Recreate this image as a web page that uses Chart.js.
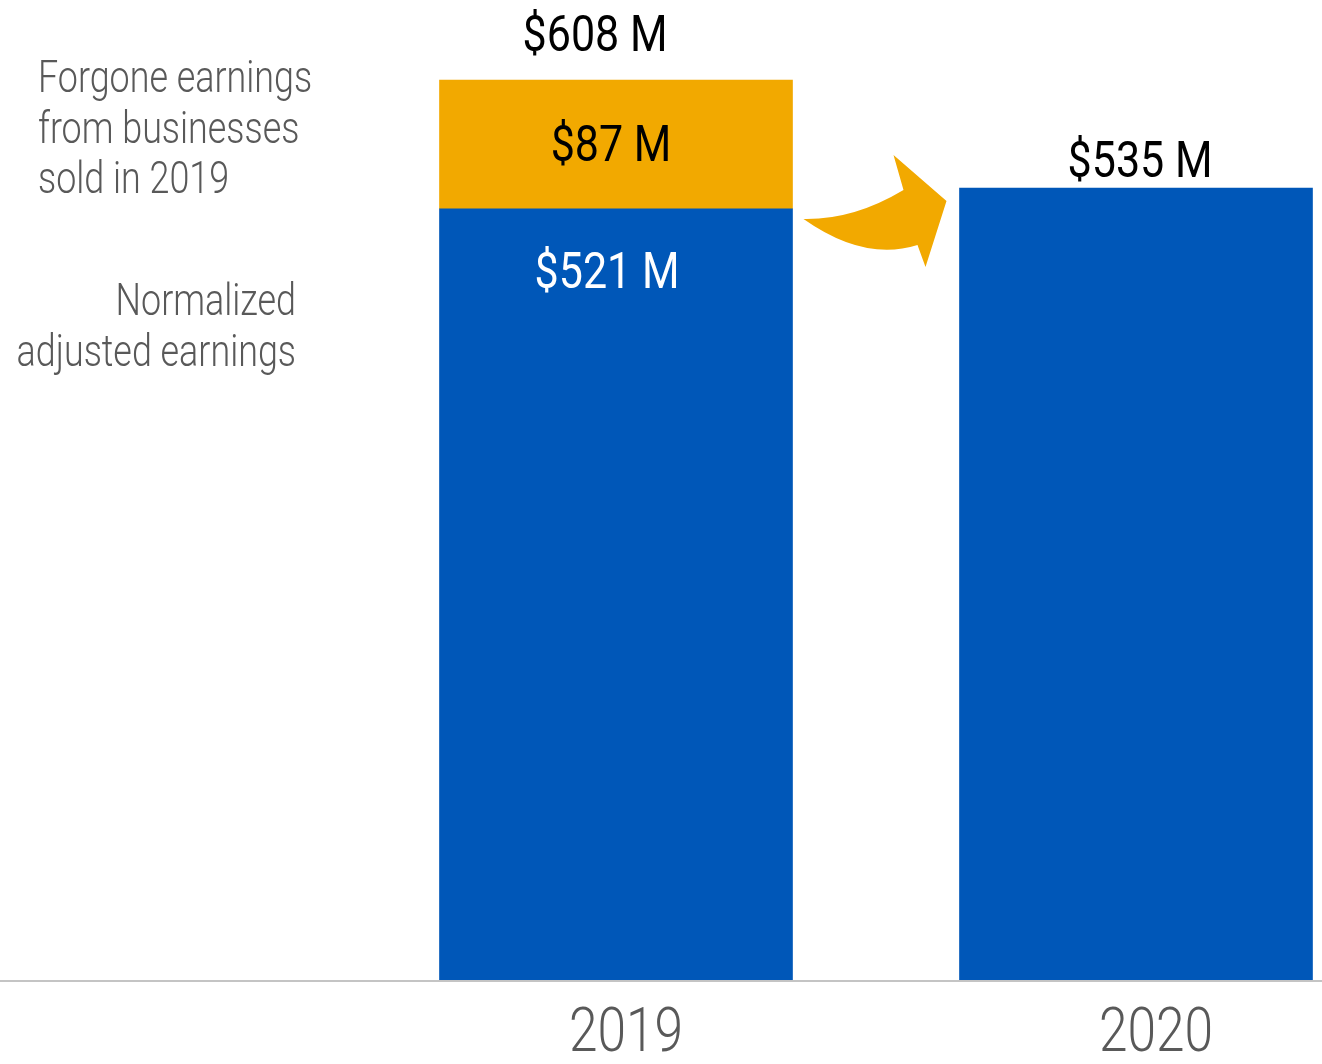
<!doctype html>
<html>
<head>
  <meta charset="utf-8" />
  <title>Normalized adjusted earnings</title>
  <style>
    body{margin:0;background:#fff}
    #wrap{width:1322px;height:1064px}
  </style>
</head>
<body>
  <div id="wrap"><canvas id="earnChart" width="1322" height="1064"></canvas></div>

  <script src="https://cdn.jsdelivr.net/npm/chart.js@4.4.1/dist/chart.umd.min.js"></script>
  <script>
    // data ($ millions)
    const categories = ['2019', '2020'];
    const normalized = [521, 535];
    const forgone = [87, null];
    const normalizedLabels = ['$521 M', null];
    const forgoneLabels = ['$87 M', null];
    const totalLabels = ['$608 M', '$535 M'];
    const forgoneName = ['Forgone earnings', 'from businesses', 'sold in 2019'];
    const normalizedName = ['Normalized', 'adjusted earnings'];

    const BLUE = '#0057b8';
    const ORANGE = '#f2a900';
    const GRAY = '#595959';
    const FONT = "Roboto, 'DejaVu Sans Condensed', sans-serif";

    // no condensed face is installed, so squeeze Roboto horizontally
    function text(ctx, str, x, y, size, color, align, sx, weight){
      ctx.save();
      ctx.translate(x, y + 4);
      ctx.scale(sx || 0.86, 1);
      ctx.font = (weight || 400) + ' ' + size + 'px ' + FONT;
      ctx.fillStyle = color;
      ctx.textAlign = align || 'center';
      ctx.textBaseline = 'middle';
      ctx.fillText(str, 0, 0);
      ctx.restore();
    }

    const decorations = {
      id: 'decorations',
      afterDatasetsDraw(chart){
        const ctx = chart.ctx;
        const xs = chart.scales.x, ys = chart.scales.y;
        const blue = chart.getDatasetMeta(0).data;
        const orange = chart.getDatasetMeta(1).data;
        ctx.save();

        // baseline across the whole width
        const y0 = Math.round(ys.getPixelForValue(0)) + 1;
        ctx.strokeStyle = '#c4c4c4';
        ctx.lineWidth = 2;
        ctx.beginPath();
        ctx.moveTo(0, y0); ctx.lineTo(chart.width, y0);
        ctx.stroke();

        // category labels under the bars
        categories.forEach((c, i) => {
          text(ctx, c, xs.getPixelForValue(i) + 10 + i * 10, y0 + 50, 62, GRAY, 'center', 0.83, 300);
        });

        // value labels
        categories.forEach((c, i) => {
          const b = blue[i];
          let top = b.y;
          if (normalizedLabels[i]) text(ctx, normalizedLabels[i], b.x - 9, b.y + 63, 50, '#fff');
          if (forgone[i] != null) {
            const o = orange[i];
            top = o.y;
            if (forgoneLabels[i]) text(ctx, forgoneLabels[i], o.x - 5, (o.y + o.base) / 2, 50, '#000');
          }
          text(ctx, totalLabels[i], b.x - 21 + i * 25, top - 46 + i * 18, 50, '#000');
        });

        // series names on the left
        const o0 = orange[0], b0 = blue[0];
        const mid = (o0.y + o0.base) / 2 - 17;
        forgoneName.forEach((s, k) => text(ctx, s, 38, mid + (k - 1) * 50.5, 44, GRAY, 'left', 0.815, 300));
        normalizedName.forEach((s, k) => text(ctx, s, 296, b0.y + 91 + k * 51, 44, GRAY, 'right', 0.815, 300));

        // curved arrow between the bars
        const x0 = b0.x + b0.width / 2;
        const r = b0.y;
        const P = (dx, dy) => [x0 + dx, r + dy];
        ctx.fillStyle = ORANGE;
        ctx.beginPath();
        ctx.moveTo(...P(11, 10));
        ctx.quadraticCurveTo(...P(61, 11), ...P(111, -19));
        ctx.lineTo(...P(101, -54));
        ctx.lineTo(...P(154, -8));
        ctx.lineTo(...P(133, 58));
        ctx.lineTo(...P(125, 36));
        ctx.quadraticCurveTo(...P(72, 53), ...P(11, 10));
        ctx.closePath();
        ctx.fill();

        ctx.restore();
      }
    };

    new Chart(document.getElementById('earnChart'), {
      type: 'bar',
      data: {
        labels: categories,
        datasets: [
          { label: 'Normalized adjusted earnings', data: normalized, backgroundColor: BLUE, stack: 's', barThickness: 353, clip: false },
          { label: 'Forgone earnings from businesses sold in 2019', data: forgone, backgroundColor: ORANGE, stack: 's', barThickness: 353, clip: false }
        ]
      },
      options: {
        responsive: false,
        animation: false,
        devicePixelRatio: 1,
        layout: { padding: { left: 616, right: 186, top: 18, bottom: 84 } },
        scales: {
          x: { stacked: true, offset: false, display: false },
          y: { stacked: true, display: false, min: 0, max: 650 }
        },
        plugins: { legend: { display: false }, tooltip: { enabled: false } }
      },
      plugins: [decorations]
    });
  </script>
</body>
</html>
